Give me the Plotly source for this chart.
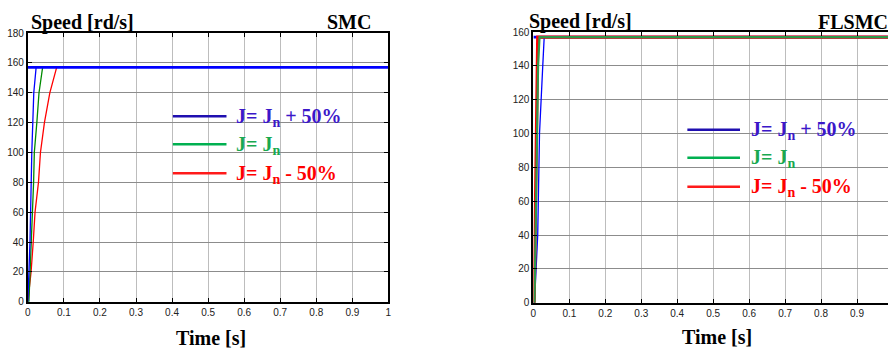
import plotly.graph_objects as go

# Reference speed (rad/s) and time span
ref_speed = 157
t_span = [0, 1]

# SMC step responses: (time [s], speed [rd/s]) breakpoints
smc_t_plus = [0, 0.006, 0.011, 0.0165, 0.023, 1.0]
smc_w_plus = [0, 40, 100, 140, 157, 157]
smc_t_nom = [0, 0.003, 0.016, 0.018, 0.025, 0.031, 0.041, 1.0]
smc_w_nom = [0, 0, 80, 100, 120, 140, 157, 157]
smc_t_minus = [0, 0.009, 0.015, 0.020, 0.0295, 0.035, 0.046, 0.061, 0.080, 1.0]
smc_w_minus = [0, 20, 40, 60, 80, 100, 120, 140, 157, 157]

# FLSMC step responses
fl_t_plus = [0, 0.003, 0.012, 0.017, 0.026, 0.030, 1.0]
fl_w_plus = [0, 0, 40, 100, 140, 157, 157]
fl_t_nom = [0, 0.003, 0.006, 0.013, 0.017, 1.0]
fl_w_nom = [0, 0, 40, 140, 157, 157]
fl_t_minus = [0, 0.002, 0.004, 0.009, 0.012, 1.0]
fl_w_minus = [0, 0, 30, 140, 157, 157]

x_ticks = [0, 0.1, 0.2, 0.3, 0.4, 0.5, 0.6, 0.7, 0.8, 0.9, 1]
x_tick_text = ["0", "0.1", "0.2", "0.3", "0.4", "0.5", "0.6", "0.7", "0.8", "0.9", "1"]
y_ticks_smc = [0, 20, 40, 60, 80, 100, 120, 140, 160, 180]
y_ticks_fl = [0, 20, 40, 60, 80, 100, 120, 140, 160]

legend_labels = ["J= J<sub>n</sub> + 50%", "J= J<sub>n</sub>", "J= J<sub>n</sub> - 50%"]
legend_text_colors = ["#3b17c9", "#19a950", "#ff0000"]
legend_line_colors = ["#1f0fb0", "#00b050", "#ff1a1a"]

BLUE, GREEN, RED = "#0000ff", "#008a00", "#ff0000"

W, H = 891, 358
fig = go.Figure()


def px_x(p):
    return p / W


def px_y(p):
    return 1 - p / H


# --- SMC panel (xaxis / yaxis)
fig.add_trace(go.Scatter(x=smc_t_minus, y=smc_w_minus, mode="lines",
                         line=dict(color=RED, width=1.3), xaxis="x", yaxis="y"))
fig.add_trace(go.Scatter(x=smc_t_nom, y=smc_w_nom, mode="lines",
                         line=dict(color=GREEN, width=1.3), xaxis="x", yaxis="y"))
fig.add_trace(go.Scatter(x=smc_t_plus, y=smc_w_plus, mode="lines",
                         line=dict(color=BLUE, width=1.3), xaxis="x", yaxis="y"))
fig.add_trace(go.Scatter(x=t_span, y=[ref_speed, ref_speed], mode="lines",
                         line=dict(color=BLUE, width=2.6), xaxis="x", yaxis="y"))

# --- FLSMC panel (xaxis2 / yaxis2)
fig.add_trace(go.Scatter(x=t_span, y=[ref_speed, ref_speed], mode="lines",
                         line=dict(color=BLUE, width=2.6), xaxis="x2", yaxis="y2"))
fig.add_trace(go.Scatter(x=fl_t_plus, y=fl_w_plus, mode="lines",
                         line=dict(color=BLUE, width=1.3), xaxis="x2", yaxis="y2"))
fig.add_trace(go.Scatter(x=fl_t_minus, y=fl_w_minus, mode="lines",
                         line=dict(color=RED, width=3.2), xaxis="x2", yaxis="y2"))
fig.add_trace(go.Scatter(x=fl_t_nom, y=fl_w_nom, mode="lines",
                         line=dict(color="#2e9a4a", width=2.2), xaxis="x2", yaxis="y2"))

tick_font = dict(family="Liberation Sans Narrow, Arial Narrow, Liberation Sans, sans-serif",
                 size=10, color="#222")

common_x = dict(tickmode="array", tickvals=x_ticks, ticktext=x_tick_text,
                ticks="inside", ticklen=4, tickwidth=1, tickcolor="black",
                showgrid=True, gridcolor="#bdbdbd", gridwidth=1.2,
                showline=True, linecolor="black", linewidth=2, mirror="ticks",
                zeroline=False, tickfont=tick_font, fixedrange=True)
common_y = dict(ticks="inside", ticklen=4, tickwidth=1, tickcolor="black",
                showgrid=True, gridcolor="#8c8c8c", gridwidth=1.3,
                showline=True, linecolor="black", linewidth=2,
                zeroline=False, tickfont=tick_font, fixedrange=True)

fig.update_layout(
    width=W, height=H,
    margin=dict(l=0, r=0, t=0, b=0),
    paper_bgcolor="white", plot_bgcolor="white",
    showlegend=False,
    xaxis=dict(common_x, domain=[px_x(25), px_x(388)], range=[0, 1], anchor="y"),
    yaxis=dict(common_y, domain=[px_y(306), px_y(28)], range=[0, 180],
               tickvals=y_ticks_smc, mirror="ticks", anchor="x"),
    xaxis2=dict(common_x, domain=[px_x(534), 1.0], range=[0, (W - 534) / 362], anchor="y2"),
    yaxis2=dict(common_y, domain=[px_y(307), px_y(27)], range=[0, 160],
                tickvals=y_ticks_fl, mirror=False, anchor="x2"),
)

title_font = dict(family="Liberation Serif, Times New Roman, serif", size=20, color="black")
legend_font_size = 20

annotations = [
    dict(x=px_x(26), y=px_y(17), text="<b>Speed [rd/s]</b>", xanchor="left", yanchor="middle"),
    dict(x=px_x(373), y=px_y(17), text="<b>SMC</b>", xanchor="right", yanchor="middle"),
    dict(x=px_x(209), y=px_y(344), text="<b>Time [s]</b>", xanchor="center", yanchor="middle"),
    dict(x=px_x(528), y=px_y(16), text="<b>Speed [rd/s]</b>", xanchor="left", yanchor="middle"),
    dict(x=px_x(893), y=px_y(17), text="<b>FLSMC</b>", xanchor="right", yanchor="middle"),
    dict(x=px_x(719), y=px_y(342), text="<b>Time [s]</b>", xanchor="center", yanchor="middle"),
]
for a in annotations:
    a.update(xref="paper", yref="paper", showarrow=False, font=title_font)

shapes = []
# legend blocks: (line start px, line end px, text start px, row y positions px)
legend_blocks = [
    (171, 225, 233, [114, 143, 173]),
    (689, 742, 751, [128, 157, 187]),
]
for x0, x1, xt, rows in legend_blocks:
    for label, tcol, lcol, yy in zip(legend_labels, legend_text_colors, legend_line_colors, rows):
        shapes.append(dict(type="line", xref="paper", yref="paper",
                           x0=px_x(x0), x1=px_x(x1), y0=px_y(yy), y1=px_y(yy),
                           line=dict(color=lcol, width=2.5)))
        annotations.append(dict(x=px_x(xt), y=px_y(yy + 1), xref="paper", yref="paper",
                                text="<b>" + label + "</b>", showarrow=False,
                                xanchor="left", yanchor="middle",
                                font=dict(family="Liberation Serif, Times New Roman, serif",
                                          size=legend_font_size, color=tcol)))

fig.update_layout(annotations=annotations, shapes=shapes)

fig.write_html("out.html")
